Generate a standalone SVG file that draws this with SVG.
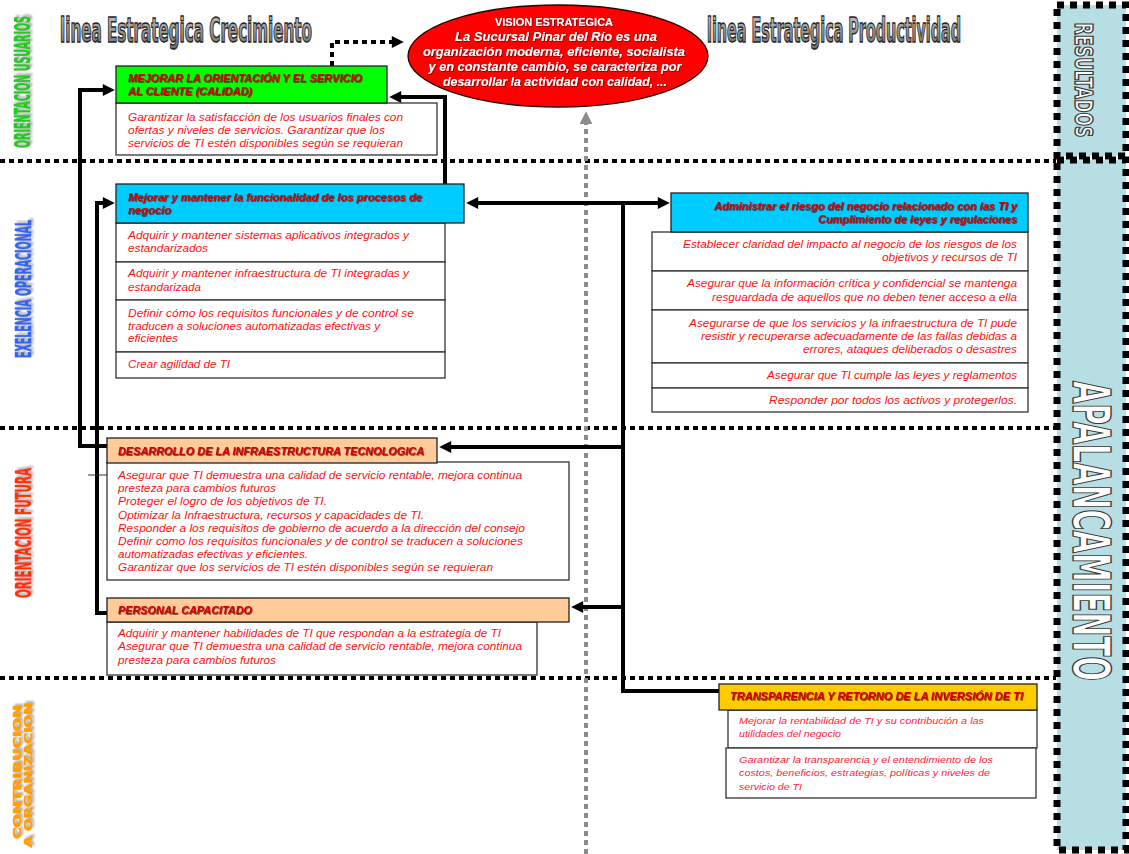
<svg xmlns="http://www.w3.org/2000/svg" width="1129" height="854" viewBox="0 0 1129 854">
  <defs>
    <style>
      .hd { font-family: "Liberation Sans", Arial, sans-serif; font-style: italic; font-weight: bold; font-size: 10.5px; fill: #D40000; filter: url(#hdShadow); }
      .tx { font-family: "Liberation Sans", Arial, sans-serif; font-style: italic; font-size: 10px; fill: #FF1010; }
      .txs { font-family: "Liberation Sans", Arial, sans-serif; font-style: italic; font-size: 9.5px; fill: #FF2040; }
      .rt { text-anchor: end; }
      .box { fill: #FFFFFF; stroke: #333333; stroke-width: 1.3; }
      .cond { font-family: "DejaVu Sans", sans-serif; font-weight: bold; font-stretch: condensed; }
      .title { font-size: 33px; fill: url(#greyGrad); stroke: #262626; stroke-width: 1.5; }
      .side { fill: #FFFFFF; stroke: #3A3A3A; stroke-width: 1.4; }
      .lbl { text-anchor: middle; stroke-width: 0.6; filter: url(#lblShadow); }
      .vis { font-family: "Liberation Sans", Arial, sans-serif; font-weight: bold; fill: #FFFFFF; text-anchor: middle; filter: url(#visShadow); }
      .sep { fill: none; stroke: #000000; stroke-width: 4; stroke-dasharray: 5 4; }
      .band { fill: #B7DEE3; stroke: #000000; stroke-width: 7; stroke-dasharray: 7 6; }
      .link { fill: none; stroke: #000000; stroke-width: 4; }
    </style>
    <linearGradient id="greyGrad" x1="0" y1="0" x2="0" y2="1">
      <stop offset="0" stop-color="#C8C8C8"/>
      <stop offset="1" stop-color="#6A6A6A"/>
    </linearGradient>
    <filter id="hdShadow" x="-5%" y="-30%" width="110%" height="160%">
      <feDropShadow dx="0.8" dy="0.8" stdDeviation="0.3" flood-color="#400000" flood-opacity="0.75"/>
    </filter>
    <filter id="visShadow" x="-5%" y="-30%" width="110%" height="160%">
      <feDropShadow dx="0.8" dy="0.8" stdDeviation="0.5" flood-color="#550000" flood-opacity="0.8"/>
    </filter>
    <filter id="lblShadow" x="-30%" y="-10%" width="160%" height="120%">
      <feDropShadow dx="2" dy="2" stdDeviation="1" flood-color="#888888" flood-opacity="0.7"/>
    </filter>
    <marker id="arr" viewBox="0 0 10 10" refX="1" refY="5" markerWidth="13" markerHeight="12" markerUnits="userSpaceOnUse" orient="auto-start-reverse">
      <path d="M0,0 L10,5 L0,10 z" fill="#000000"/>
    </marker>
    <marker id="arrGrey" viewBox="0 0 10 10" refX="1" refY="5" markerWidth="13" markerHeight="13" markerUnits="userSpaceOnUse" orient="auto">
      <path d="M0,0 L10,5 L0,10 z" fill="#8C8C8C"/>
    </marker>
  </defs>

  <rect x="0" y="0" width="1129" height="854" fill="#FFFFFF"/>

  <!-- band separators -->
  <g id="separators">
    <line class="sep" x1="0" y1="161" x2="1056" y2="161"/>
    <line class="sep" x1="0" y1="428" x2="1056" y2="428"/>
    <line class="sep" x1="0" y1="678" x2="1056" y2="678"/>
    <path d="M586,854 V123" fill="none" stroke="#8C8C8C" stroke-width="4" stroke-dasharray="5 4" marker-end="url(#arrGrey)"/>
  </g>

  <!-- right-hand bands -->
  <g id="resultados">
    <rect class="band" x="1057" y="5" width="69" height="151"/>
    <text class="cond side" transform="translate(1075,80) rotate(90)" text-anchor="middle" font-size="24" textLength="115" lengthAdjust="spacingAndGlyphs">RESULTADOS</text>
  </g>
  <g id="apalancamiento">
    <rect class="band" x="1057" y="160" width="69" height="690"/>
    <text class="cond side" transform="translate(1073,531) rotate(90)" text-anchor="middle" font-size="52" textLength="300" lengthAdjust="spacingAndGlyphs">APALANCAMIENTO</text>
  </g>

  <!-- band labels -->
  <g id="band-labels">
    <text class="cond lbl" transform="translate(30,82) rotate(-90)" font-size="22" fill="#22CC22" stroke="#22BB22" textLength="132" lengthAdjust="spacingAndGlyphs">ORIENTACION USUARIOS</text>
    <text class="cond lbl" transform="translate(31,289) rotate(-90)" font-size="22" fill="#3366EE" stroke="#3366EE" textLength="138" lengthAdjust="spacingAndGlyphs">EXELENCIA OPERACIONAL</text>
    <text class="cond lbl" transform="translate(31,533) rotate(-90)" font-size="22" fill="#FF3300" stroke="#FF3300" textLength="130" lengthAdjust="spacingAndGlyphs">ORIENTACION FUTURA</text>
    <text class="cond lbl" transform="translate(21,772) rotate(-90)" font-size="11" fill="#FFA000" stroke="#FFA000" stroke-width="0.4" textLength="134" lengthAdjust="spacingAndGlyphs">CONTRIBUCION</text>
    <text class="cond lbl" transform="translate(32,775) rotate(-90)" font-size="11" fill="#FFA000" stroke="#FFA000" stroke-width="0.4" textLength="145" lengthAdjust="spacingAndGlyphs">A ORGANIZACION</text>
  </g>

  <!-- titles -->
  <g id="titles">
    <text class="cond title" x="60" y="42" textLength="252" lengthAdjust="spacingAndGlyphs">linea Estrategica Crecimiento</text>
    <text class="cond title" x="707" y="42" textLength="254" lengthAdjust="spacingAndGlyphs">linea Estrategica Productividad</text>
  </g>

  <!-- connectors -->
  <g id="connectors">
    <path class="link" d="M107,446 H80 V90 H104" marker-end="url(#arr)"/>
    <path class="link" d="M107,613 H97 V203 H104" marker-end="url(#arr)"/>
    <path class="link" d="M445,184 V97 H400" marker-end="url(#arr)"/>
    <path class="link" d="M477,203 H659" marker-start="url(#arr)" marker-end="url(#arr)"/>
    <path class="link" d="M623,203 V691 H719"/>
    <path class="link" d="M623,447 H450" marker-end="url(#arr)"/>
    <path class="link" d="M623,607 H582" marker-end="url(#arr)"/>
    <line x1="88" y1="475" x2="107" y2="475" stroke="#333333" stroke-width="1"/>
    <path d="M332,66 V42 H393" fill="none" stroke="#000000" stroke-width="4" stroke-dasharray="5 4" marker-end="url(#arr)"/>
  </g>

  <!-- vision -->
  <g id="vision">
    <ellipse cx="558" cy="56" rx="150" ry="51" fill="#FF0000" stroke="#2A0000" stroke-width="1.3"/>
    <text class="vis" x="554" y="26" font-size="10.5" textLength="118" lengthAdjust="spacingAndGlyphs">VISION ESTRATEGICA</text>
    <text class="vis" x="556" y="41" font-size="12.5" font-style="italic" textLength="202" lengthAdjust="spacingAndGlyphs">La Sucursal  Pinar del Río  es una</text>
    <text class="vis" x="554" y="56" font-size="12.5" font-style="italic" textLength="262" lengthAdjust="spacingAndGlyphs">organización moderna, eficiente, socialista</text>
    <text class="vis" x="555" y="71" font-size="12.5" font-style="italic" textLength="253" lengthAdjust="spacingAndGlyphs">y en constante cambio, se caracteriza por</text>
    <text class="vis" x="555" y="86" font-size="12.5" font-style="italic" textLength="224" lengthAdjust="spacingAndGlyphs">desarrollar la actividad con calidad, ...</text>
  </g>

  <!-- customer orientation -->
  <g id="orientacion-cliente">
    <rect class="box" x="116" y="103" width="321" height="52" stroke="#666666"/>
    <rect x="116" y="66" width="271" height="37" fill="#00FF00" stroke="#222222" stroke-width="1.3"/>
    <text class="hd" x="128" y="82" textLength="234" lengthAdjust="spacingAndGlyphs">MEJORAR LA ORIENTACIÓN Y EL SERVICIO</text>
    <text class="hd" x="128" y="95" textLength="124" lengthAdjust="spacingAndGlyphs">AL CLIENTE (CALIDAD)</text>
    <text class="tx" x="128" y="121" textLength="275" lengthAdjust="spacingAndGlyphs">Garantizar la satisfacción de los usuarios finales con</text>
    <text class="tx" x="128" y="134" textLength="257" lengthAdjust="spacingAndGlyphs">ofertas y niveles de servicios. Garantizar que los</text>
    <text class="tx" x="128" y="147" textLength="275" lengthAdjust="spacingAndGlyphs">servicios de TI estén  disponibles según se requieran</text>
  </g>

  <!-- business processes -->
  <g id="procesos-negocio">
    <rect class="box" x="116" y="223" width="329" height="39"/>
    <rect class="box" x="116" y="262" width="329" height="38"/>
    <rect class="box" x="116" y="300" width="329" height="52"/>
    <rect class="box" x="116" y="352" width="329" height="26"/>
    <rect x="116" y="184" width="348" height="39" fill="#00CCFF" stroke="#222222" stroke-width="1.3"/>
    <text class="hd" x="128" y="201" textLength="294" lengthAdjust="spacingAndGlyphs">Mejorar  y mantener la funcionalidad de los procesos de</text>
    <text class="hd" x="128" y="214" textLength="43" lengthAdjust="spacingAndGlyphs">negocio</text>
    <text class="tx" x="128" y="239" textLength="281" lengthAdjust="spacingAndGlyphs">Adquirir y mantener sistemas aplicativos integrados y</text>
    <text class="tx" x="128" y="252" textLength="80" lengthAdjust="spacingAndGlyphs">estandarizados</text>
    <text class="tx" x="128" y="277" textLength="281" lengthAdjust="spacingAndGlyphs">Adquirir y mantener infraestructura de TI integradas y</text>
    <text class="tx" x="128" y="291" textLength="73" lengthAdjust="spacingAndGlyphs">estandarizada</text>
    <text class="tx" x="128" y="317" textLength="286" lengthAdjust="spacingAndGlyphs">Definir cómo los requisitos funcionales y de control se</text>
    <text class="tx" x="128" y="330" textLength="252" lengthAdjust="spacingAndGlyphs">traducen a soluciones automatizadas efectivas y</text>
    <text class="tx" x="128" y="342" textLength="50" lengthAdjust="spacingAndGlyphs">eficientes</text>
    <text class="tx" x="128" y="368" textLength="102" lengthAdjust="spacingAndGlyphs">Crear agilidad de TI</text>
  </g>

  <!-- risk and compliance -->
  <g id="riesgo-negocio">
    <rect class="box" x="652" y="232" width="376" height="39"/>
    <rect class="box" x="652" y="271" width="376" height="39"/>
    <rect class="box" x="652" y="310" width="376" height="53"/>
    <rect class="box" x="652" y="363" width="376" height="25"/>
    <rect class="box" x="652" y="388" width="376" height="24"/>
    <rect x="671" y="193" width="357" height="39" fill="#00CCFF" stroke="#222222" stroke-width="1.3"/>
    <text class="hd rt" x="1017" y="210" textLength="303" lengthAdjust="spacingAndGlyphs">Administrar el riesgo del negocio relacionado con las TI y</text>
    <text class="hd rt" x="1017" y="223" textLength="199" lengthAdjust="spacingAndGlyphs">Cumplimiento de leyes y regulaciones</text>
    <text class="tx rt" x="1017" y="248" textLength="334" lengthAdjust="spacingAndGlyphs">Establecer claridad del impacto al negocio de los riesgos de los</text>
    <text class="tx rt" x="1017" y="261" textLength="135" lengthAdjust="spacingAndGlyphs">objetivos y recursos de TI</text>
    <text class="tx rt" x="1017" y="287" textLength="330" lengthAdjust="spacingAndGlyphs">Asegurar que la información crítica y confidencial se mantenga</text>
    <text class="tx rt" x="1017" y="301" textLength="305" lengthAdjust="spacingAndGlyphs">resguardada de aquellos que no deben tener acceso a ella</text>
    <text class="tx rt" x="1017" y="327" textLength="328" lengthAdjust="spacingAndGlyphs">Asegurarse de que los servicios y la infraestructura de TI pude</text>
    <text class="tx rt" x="1017" y="340" textLength="316" lengthAdjust="spacingAndGlyphs">resistir y recuperarse adecuadamente de las fallas debidas a</text>
    <text class="tx rt" x="1017" y="353" textLength="214" lengthAdjust="spacingAndGlyphs">errores, ataques deliberados o desastres</text>
    <text class="tx rt" x="1017" y="379" textLength="250" lengthAdjust="spacingAndGlyphs">Asegurar que TI cumple las leyes y reglamentos</text>
    <text class="tx rt" x="1017" y="404" textLength="248" lengthAdjust="spacingAndGlyphs">Responder por todos los activos y protegerlos.</text>
  </g>

  <!-- infrastructure -->
  <g id="infraestructura">
    <rect class="box" x="107" y="462" width="462" height="118"/>
    <rect x="107" y="438" width="330" height="25" fill="#FFCC99" stroke="#222222" stroke-width="1.3"/>
    <text class="hd" x="118" y="455" textLength="306" lengthAdjust="spacingAndGlyphs">DESARROLLO DE LA INFRAESTRUCTURA TECNOLOGICA</text>
    <text class="tx" x="118" y="479" textLength="404" lengthAdjust="spacingAndGlyphs">Asegurar que TI demuestra una calidad de servicio rentable, mejora continua</text>
    <text class="tx" x="118" y="492" textLength="158" lengthAdjust="spacingAndGlyphs">presteza para cambios futuros</text>
    <text class="tx" x="118" y="505" textLength="209" lengthAdjust="spacingAndGlyphs">Proteger el logro de los objetivos de TI.</text>
    <text class="tx" x="118" y="519" textLength="306" lengthAdjust="spacingAndGlyphs">Optimizar la Infraestructura, recursos y capacidades de TI.</text>
    <text class="tx" x="118" y="532" textLength="407" lengthAdjust="spacingAndGlyphs">Responder a los requisitos de gobierno de acuerdo a la dirección del consejo</text>
    <text class="tx" x="118" y="545" textLength="405" lengthAdjust="spacingAndGlyphs">Definir como los requisitos funcionales y de control se traducen a soluciones</text>
    <text class="tx" x="118" y="558" textLength="190" lengthAdjust="spacingAndGlyphs">automatizadas efectivas  y eficientes.</text>
    <text class="tx" x="118" y="571" textLength="375" lengthAdjust="spacingAndGlyphs">Garantizar que los servicios de TI estén  disponibles según se requieran</text>
  </g>

  <!-- staff -->
  <g id="personal">
    <rect class="box" x="107" y="622" width="430" height="53"/>
    <rect x="107" y="598" width="462" height="24" fill="#FFCC99" stroke="#222222" stroke-width="1.3"/>
    <text class="hd" x="118" y="614" textLength="134" lengthAdjust="spacingAndGlyphs">PERSONAL CAPACITADO</text>
    <text class="tx" x="118" y="637" textLength="383" lengthAdjust="spacingAndGlyphs">Adquirir y mantener habilidades de TI que respondan a la estrategia de TI</text>
    <text class="tx" x="118" y="650" textLength="404" lengthAdjust="spacingAndGlyphs">Asegurar que TI demuestra una calidad de servicio rentable, mejora continua</text>
    <text class="tx" x="118" y="664" textLength="158" lengthAdjust="spacingAndGlyphs">presteza para cambios futuros</text>
  </g>

  <!-- transparency and return -->
  <g id="transparencia">
    <rect class="box" x="728" y="710" width="309" height="38"/>
    <rect class="box" x="726" y="748" width="310" height="50"/>
    <rect x="719" y="684" width="318" height="26" fill="#FFCC00" stroke="#222222" stroke-width="1.3"/>
    <text class="hd" x="730" y="700" textLength="293" lengthAdjust="spacingAndGlyphs">TRANSPARENCIA Y RETORNO DE LA INVERSIÓN DE TI</text>
    <text class="txs" x="739" y="724" textLength="245" lengthAdjust="spacingAndGlyphs">Mejorar la rentabilidad  de TI y su contribución a las</text>
    <text class="txs" x="739" y="737" textLength="102" lengthAdjust="spacingAndGlyphs">utilidades del negocio</text>
    <text class="txs" x="739" y="763" textLength="254" lengthAdjust="spacingAndGlyphs">Garantizar la transparencia  y el entendimiento  de los</text>
    <text class="txs" x="739" y="776" textLength="251" lengthAdjust="spacingAndGlyphs">costos, beneficios, estrategias, políticas y niveles de</text>
    <text class="txs" x="739" y="790" textLength="63" lengthAdjust="spacingAndGlyphs">servicio de TI</text>
  </g>
</svg>
